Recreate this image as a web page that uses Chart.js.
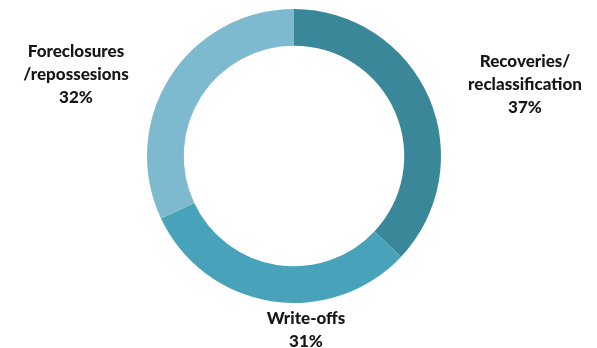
<!DOCTYPE html>
<html>
<head>
<meta charset="utf-8">
<script src="https://cdn.jsdelivr.net/npm/chart.js@4.4.1/dist/chart.umd.min.js"></script>
<style>
  body { margin: 0; background: #fff; }
  #wrap { width: 597px; height: 348px; }
</style>
</head>
<body>
<div id="wrap"><canvas id="donut" width="597" height="348"></canvas></div>
<script>
        const categories = ['Recoveries/\nreclassification', 'Write-offs', 'Foreclosures\n/repossesions'];
        const shares = [37, 31, 32];
        const sliceColors = ['#3b879a', '#48a3ba', '#7ebacf'];

        // where each label block sits, relative to the doughnut centre (layout only)
        const labelOffsets = [[231, -71], [12, 174], [-218, -81]];

        const labelPlugin = {
            id: 'outsideLabels',
            afterDatasetsDraw(chart) {
                const ctx = chart.ctx;
                const meta = chart.getDatasetMeta(0);
                ctx.save();
                ctx.font = '900 17px Lato, "Open Sans", sans-serif';
                ctx.fillStyle = '#161616';
                ctx.textAlign = 'center';
                ctx.textBaseline = 'middle';
                meta.data.forEach((arc, i) => {
                    const lines = categories[i].split('\n').concat(shares[i] + '%');
                    const cx = arc.x + labelOffsets[i][0];
                    const cy = arc.y + labelOffsets[i][1];
                    const lh = 23;
                    const top = cy - (lines.length - 1) * lh / 2;
                    lines.forEach((t, j) => ctx.fillText(t, cx, top + j * lh));
                });
                ctx.restore();
            }
        };

        new Chart(document.getElementById('donut').getContext('2d'), {
            type: 'doughnut',
            data: {
                labels: categories,
                datasets: [{
                    data: shares,
                    backgroundColor: sliceColors,
                    borderWidth: 0
                }]
            },
            options: {
                responsive: false,
                animation: false,
                cutout: '75%',
                layout: { padding: { left: 147, right: 156, top: 9, bottom: 45 } },
                plugins: {
                    legend: { display: false },
                    tooltip: { enabled: false }
                }
            },
            plugins: [labelPlugin]
        });
</script>
</body>
</html>
